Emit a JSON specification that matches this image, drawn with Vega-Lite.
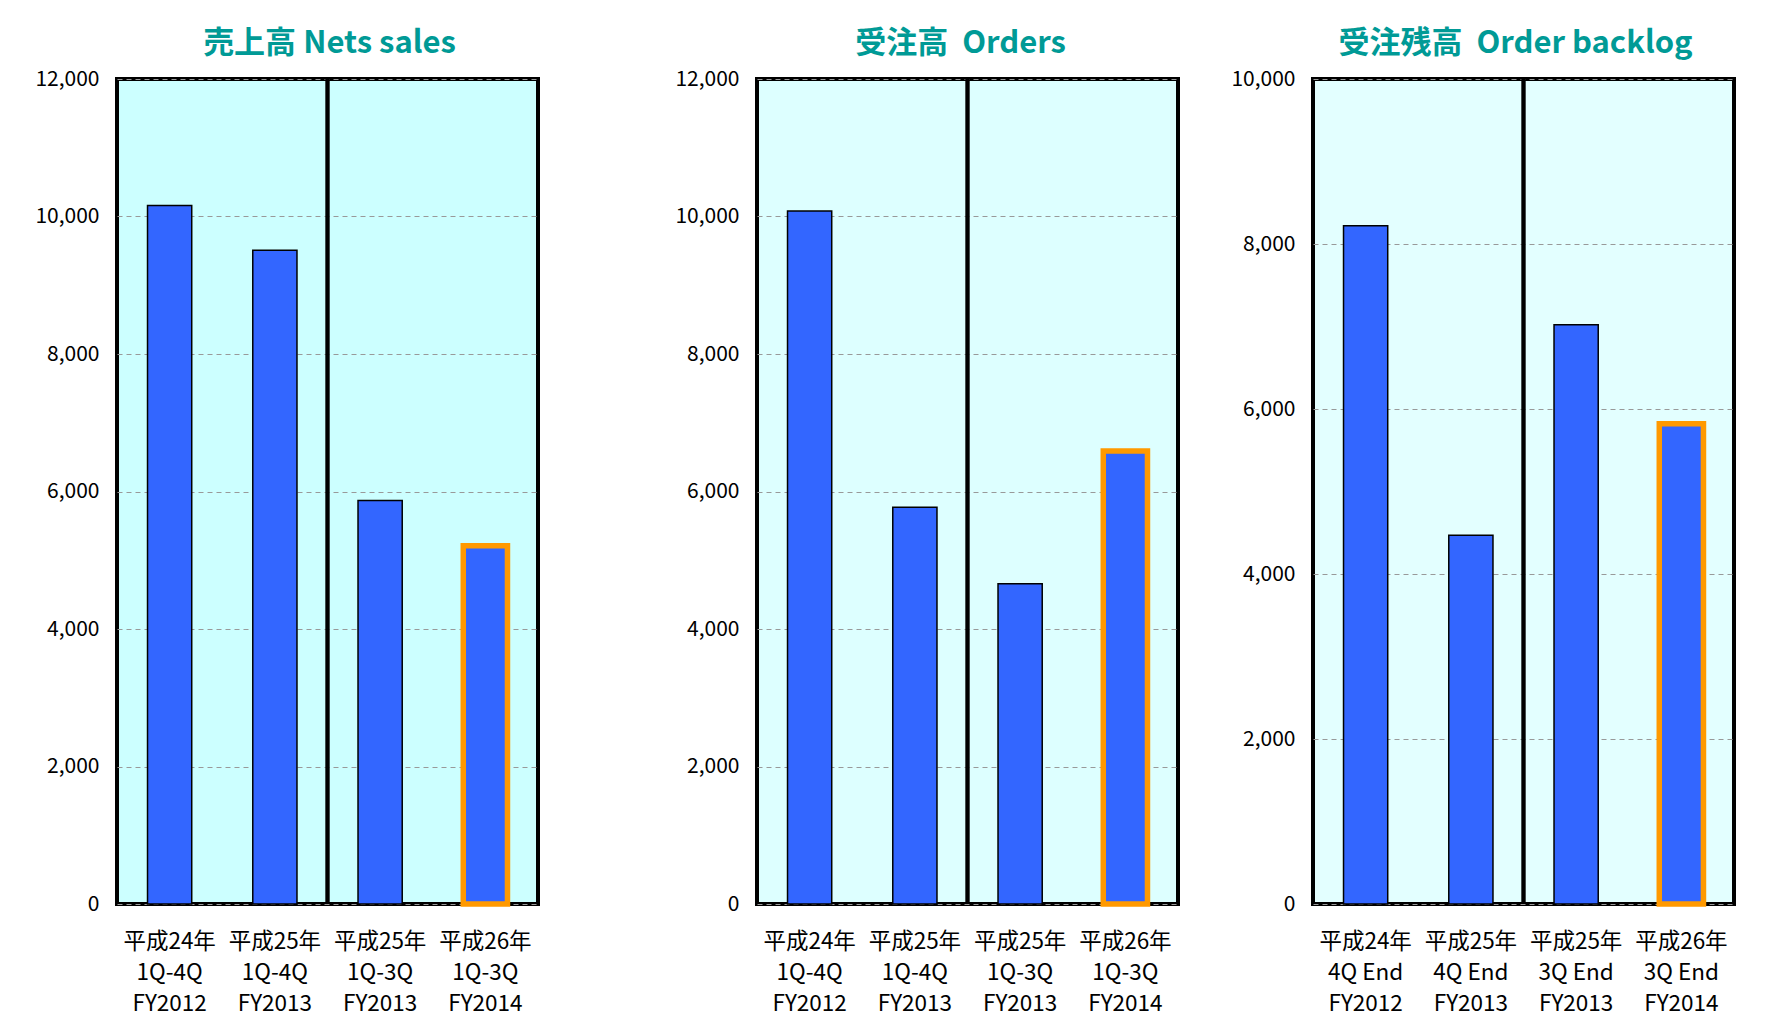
{
  "$schema": "https://vega.github.io/schema/vega-lite/v6.json",
  "padding": {"left": 0, "top": 26, "right": 0, "bottom": 0},
  "background": "white",
  "data": {"values": [
    {"panel": "sales", "period": "平成24年|1Q-4Q|FY2012", "value": 10160, "hl": false},
    {"panel": "sales", "period": "平成25年|1Q-4Q|FY2013", "value": 9510, "hl": false},
    {"panel": "sales", "period": "平成25年|1Q-3Q|FY2013", "value": 5870, "hl": false},
    {"panel": "sales", "period": "平成26年|1Q-3Q|FY2014", "value": 5210, "hl": true},
    {"panel": "orders", "period": "平成24年|1Q-4Q|FY2012", "value": 10080, "hl": false},
    {"panel": "orders", "period": "平成25年|1Q-4Q|FY2013", "value": 5770, "hl": false},
    {"panel": "orders", "period": "平成25年|1Q-3Q|FY2013", "value": 4660, "hl": false},
    {"panel": "orders", "period": "平成26年|1Q-3Q|FY2014", "value": 6590, "hl": true},
    {"panel": "backlog", "period": "平成24年|4Q End|FY2012", "value": 8220, "hl": false},
    {"panel": "backlog", "period": "平成25年|4Q End|FY2013", "value": 4470, "hl": false},
    {"panel": "backlog", "period": "平成25年|3Q End|FY2013", "value": 7020, "hl": false},
    {"panel": "backlog", "period": "平成26年|3Q End|FY2014", "value": 5820, "hl": true}
  ]},
  "config": {
    "font": "Noto Sans CJK JP",
    "concat": {"spacing": 20},
    "axisY": {"labelFontSize": 21, "labelColor": "black", "ticks": false, "domain": false, "gridColor": "#999999", "gridDash": [5, 4], "gridWidth": 1, "labelPadding": 18, "title": null, "labelFont": "Noto Sans CJK JP"},
    "axisX": {"labelFontSize": 22.5, "labelColor": "black", "ticks": false, "domain": false, "grid": false, "labelPadding": 26, "labelLineHeight": 31, "labelAngle": 0, "title": null, "labelFont": "Noto Sans CJK JP"},
    "title": {"fontSize": 31, "color": "#009a96", "fontWeight": "bold", "font": "Noto Sans CJK JP", "offset": 8, "anchor": "middle", "frame": "group"}
  },
  "hconcat": [
    {
      "width": 421, "height": 825,
      "title": {"text": "売上高 Nets sales", "dx": 2},
      "view": {"fill": "#ccffff", "stroke": "black", "strokeWidth": 4},
      "transform": [{"filter": "datum.panel === 'sales'"}],
      "layer": [
        {
          "mark": {"type": "bar", "fill": "#3366ff"},
          "encoding": {
            "x": {"field": "period", "type": "nominal", "sort": null, "scale": {"paddingInner": 0.58, "paddingOuter": 0.29}, "axis": {"labelExpr": "split(datum.label, '|')"}},
            "y": {"field": "value", "type": "quantitative", "scale": {"domain": [0, 12000], "nice": false}, "axis": {"values": [0, 2000, 4000, 6000, 8000, 10000, 12000], "format": ",.0f", "minExtent": 114.5, "grid": true}},
            "stroke": {"condition": {"test": "datum.hl", "value": "#ff9900"}, "value": "black"},
            "strokeWidth": {"condition": {"test": "datum.hl", "value": 5.5}, "value": 1.5}
          }
        },
        {
          "mark": {"type": "rule", "color": "black", "strokeWidth": 3.5},
          "encoding": {"x": {"datum": 2, "type": "quantitative", "scale": {"domain": [0, 4], "nice": false}, "axis": null}}
        }
      ],
      "resolve": {"scale": {"x": "independent"}, "axis": {"x": "independent"}}
    },
    {
      "width": 421, "height": 825,
      "title": {"text": "受注高 \u00a0Orders", "dx": -7},
      "view": {"fill": "#ddffff", "stroke": "black", "strokeWidth": 4},
      "transform": [{"filter": "datum.panel === 'orders'"}],
      "layer": [
        {
          "mark": {"type": "bar", "fill": "#3366ff"},
          "encoding": {
            "x": {"field": "period", "type": "nominal", "sort": null, "scale": {"paddingInner": 0.58, "paddingOuter": 0.29}, "axis": {"labelExpr": "split(datum.label, '|')"}},
            "y": {"field": "value", "type": "quantitative", "scale": {"domain": [0, 12000], "nice": false}, "axis": {"values": [0, 2000, 4000, 6000, 8000, 10000, 12000], "format": ",.0f", "minExtent": 194.5, "grid": true}},
            "stroke": {"condition": {"test": "datum.hl", "value": "#ff9900"}, "value": "black"},
            "strokeWidth": {"condition": {"test": "datum.hl", "value": 5.5}, "value": 1.5}
          }
        },
        {
          "mark": {"type": "rule", "color": "black", "strokeWidth": 3.5},
          "encoding": {"x": {"datum": 2, "type": "quantitative", "scale": {"domain": [0, 4], "nice": false}, "axis": null}}
        }
      ],
      "resolve": {"scale": {"x": "independent"}, "axis": {"x": "independent"}}
    },
    {
      "width": 421, "height": 825,
      "title": {"text": "受注残高 \u00a0Order backlog", "dx": -8},
      "view": {"fill": "#e3ffff", "stroke": "black", "strokeWidth": 4},
      "transform": [{"filter": "datum.panel === 'backlog'"}],
      "layer": [
        {
          "mark": {"type": "bar", "fill": "#3366ff"},
          "encoding": {
            "x": {"field": "period", "type": "nominal", "sort": null, "scale": {"paddingInner": 0.58, "paddingOuter": 0.29}, "axis": {"labelExpr": "split(datum.label, '|')"}},
            "y": {"field": "value", "type": "quantitative", "scale": {"domain": [0, 10000], "nice": false}, "axis": {"values": [0, 2000, 4000, 6000, 8000, 10000], "format": ",.0f", "minExtent": 111, "grid": true}},
            "stroke": {"condition": {"test": "datum.hl", "value": "#ff9900"}, "value": "black"},
            "strokeWidth": {"condition": {"test": "datum.hl", "value": 5.5}, "value": 1.5}
          }
        },
        {
          "mark": {"type": "rule", "color": "black", "strokeWidth": 3.5},
          "encoding": {"x": {"datum": 2, "type": "quantitative", "scale": {"domain": [0, 4], "nice": false}, "axis": null}}
        }
      ],
      "resolve": {"scale": {"x": "independent"}, "axis": {"x": "independent"}}
    }
  ]
}
